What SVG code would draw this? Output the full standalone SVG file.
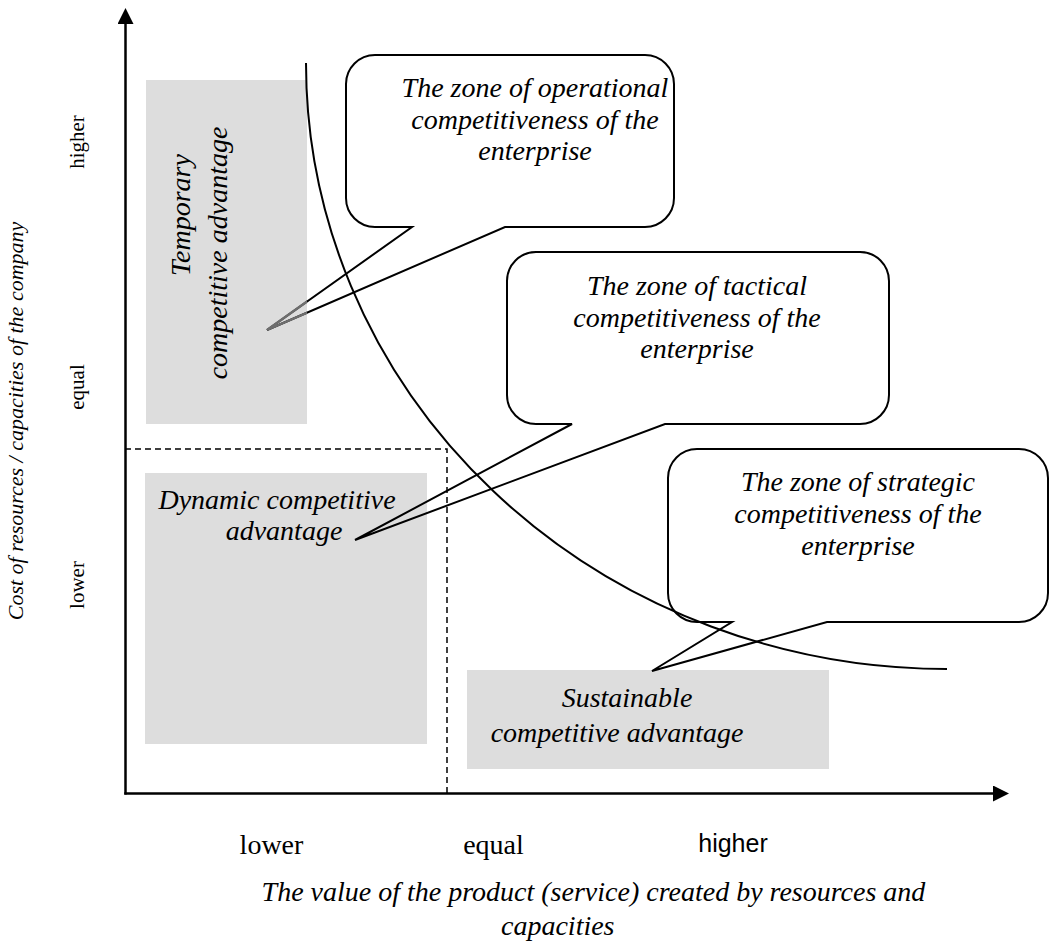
<svg xmlns="http://www.w3.org/2000/svg" width="1050" height="945" viewBox="0 0 1050 945">
<defs>
<style>
.t{font-family:"Liberation Serif","Times New Roman",serif;font-size:28px;font-style:italic;fill:#000;}
.ax{font-family:"Liberation Serif","Times New Roman",serif;font-size:21px;fill:#000;}
.axb{font-family:"Liberation Serif","Times New Roman",serif;font-size:28px;fill:#000;}
.axs{font-family:"Liberation Sans",Arial,sans-serif;font-size:25px;fill:#000;}
.ttl{font-family:"Liberation Serif","Times New Roman",serif;font-size:22px;font-style:italic;fill:#000;}
.zone{fill:#dddddd;}
.bub{fill:none;stroke:#000;stroke-width:2;}
.axis{stroke:#000;stroke-width:2.5;fill:none;}
.dash{stroke:#000;stroke-width:1.5;stroke-dasharray:6 4;fill:none;}
.curve{stroke:#000;stroke-width:2;fill:none;}
</style>
<marker id="arr" viewBox="0 0 16 16" markerWidth="16" markerHeight="16" refX="1" refY="8" orient="auto" markerUnits="userSpaceOnUse">
<path d="M0,0 L16,8 L0,16 Z" fill="#000"/>
</marker>
<clipPath id="clipTemp"><rect x="146" y="80" width="161" height="344"/></clipPath>
</defs>
<rect width="1050" height="945" fill="#fff"/>

<g id="zone-temporary">
<rect class="zone" x="146" y="80" width="161" height="344"/>
<text class="t" text-anchor="middle" transform="translate(190,215) rotate(-90)">Temporary</text>
<text class="t" text-anchor="middle" transform="translate(227,253) rotate(-90)">competitive advantage</text>
</g>
<g id="zone-dynamic">
<rect class="zone" x="145" y="473" width="282" height="271"/>
<text class="t" text-anchor="middle" x="277" y="509">Dynamic competitive</text>
<text class="t" text-anchor="middle" x="284" y="540">advantage</text>
</g>
<g id="zone-sustainable">
<rect class="zone" x="467" y="670" width="362" height="99"/>
<text class="t" text-anchor="middle" x="627" y="707">Sustainable</text>
<text class="t" text-anchor="middle" x="617" y="742">competitive advantage</text>
</g>

<g id="connectors">
<path class="dash" d="M125,449 H447 V793"/>
<path class="curve" d="M306,63 A641,606 0 0 0 947,669"/>
<path class="axis" d="M125.5,794.5 V23" marker-end="url(#arr)"/>
<path class="axis" d="M124.3,793.5 H994" marker-end="url(#arr)"/>
</g>

<g id="bubble-operational">
<path class="bub" d="M375,55 H645 A29,29 0 0 1 674,84 V198 A29,29 0 0 1 645,227 H505 L267,330 L412,227 H375 A29,29 0 0 1 346,198 V84 A29,29 0 0 1 375,55 Z"/>
<path d="M505,227 L267,330 L412,227" fill="none" stroke="#6e6e6e" stroke-width="2.4" clip-path="url(#clipTemp)"/>
<text class="t" text-anchor="middle" x="535" y="97">The zone of operational</text>
<text class="t" text-anchor="middle" x="535" y="129">competitiveness of the</text>
<text class="t" text-anchor="middle" x="535" y="160">enterprise</text>
</g>
<g id="bubble-tactical">
<path class="bub" d="M536,252 H860 A29,29 0 0 1 889,281 V395 A29,29 0 0 1 860,424 H665 L355,540 L572,424 H536 A29,29 0 0 1 507,395 V281 A29,29 0 0 1 536,252 Z"/>
<text class="t" text-anchor="middle" x="697" y="295">The zone of tactical</text>
<text class="t" text-anchor="middle" x="697" y="327">competitiveness of the</text>
<text class="t" text-anchor="middle" x="697" y="358">enterprise</text>
</g>
<g id="bubble-strategic">
<path class="bub" d="M697,449 H1019 A29,29 0 0 1 1048,478 V593 A29,29 0 0 1 1019,622 H827 L652,671 L732,622 H697 A29,29 0 0 1 668,593 V478 A29,29 0 0 1 697,449 Z"/>
<text class="t" text-anchor="middle" x="858" y="491">The zone of strategic</text>
<text class="t" text-anchor="middle" x="858" y="523">competitiveness of the</text>
<text class="t" text-anchor="middle" x="858" y="555">enterprise</text>
</g>

<g id="y-axis-labels">
<text class="ax" text-anchor="middle" transform="translate(84,142) rotate(-90)">higher</text>
<text class="ax" text-anchor="middle" transform="translate(84,387) rotate(-90)">equal</text>
<text class="ax" text-anchor="middle" transform="translate(84,585) rotate(-90)">lower</text>
<text class="ttl" text-anchor="middle" transform="translate(23,421) rotate(-90)">Cost of resources / capacities of the company</text>
</g>
<g id="x-axis-labels">
<text class="axb" text-anchor="middle" x="271.5" y="854">lower</text>
<text class="axb" text-anchor="middle" x="493.5" y="854">equal</text>
<text class="axs" text-anchor="middle" x="733" y="852">higher</text>
<text class="t" text-anchor="middle" x="593.5" y="901">The value of the product (service) created by resources and</text>
<text class="t" x="501" y="935">capacities</text>
</g>
</svg>
